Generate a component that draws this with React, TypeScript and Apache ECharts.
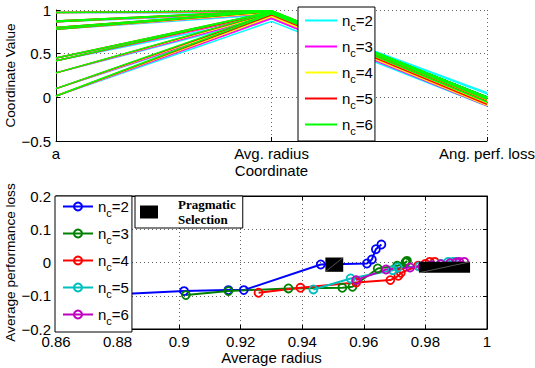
import React, { useEffect, useRef } from "react";
import * as echarts from "echarts";

// ---------- data ----------
const NC = [2, 3, 4, 5, 6];
const COORD_LABELS = ["a", "Avg. radius", "Ang. perf. loss"];
const A_VALUES = [0.015, 0.1, 0.28, 0.42, 0.45, 0.78, 0.8, 0.865, 0.875, 0.97];

const RADIUS_NC2 = [0.87, 0.9016, 0.916, 0.921, 0.946, 0.95, 0.961, 0.9626, 0.9639, 0.9657];
const LOSS_NC2 = [-0.1, -0.086, -0.083, -0.083, -0.006, -0.005, -0.003, 0.009, 0.04, 0.054];
const RADIUS_NC3 = [0.9022, 0.916, 0.9355, 0.953, 0.9563, 0.9645, 0.9708, 0.9735, 0.9738, 0.974];
const LOSS_NC3 = [-0.098, -0.086, -0.078, -0.076, -0.073, -0.018, -0.01, 0.0, 0.002, 0.005];
const RADIUS_NC4 = [0.9258, 0.9394, 0.9575, 0.9686, 0.9712, 0.972, 0.9776, 0.98, 0.9814, 0.983];
const LOSS_NC4 = [-0.091, -0.076, -0.06, -0.053, -0.04, -0.031, -0.01, -0.004, 0.002, 0.002];
const RADIUS_NC5 = [0.9436, 0.9557, 0.9694, 0.971, 0.978, 0.982, 0.985, 0.9874, 0.989, 0.99];
const LOSS_NC5 = [-0.081, -0.048, -0.023, -0.015, -0.012, -0.008, -0.004, 0.002, 0.002, 0.002];
const RADIUS_NC6 = [0.9575, 0.9672, 0.975, 0.979, 0.982, 0.985, 0.988, 0.99, 0.991, 0.9926];
const LOSS_NC6 = [-0.053, -0.021, -0.015, -0.012, -0.008, -0.005, -0.002, 0.0, 0.002, 0.002];

const RADIUS = [RADIUS_NC2, RADIUS_NC3, RADIUS_NC4, RADIUS_NC5, RADIUS_NC6];
const LOSS = [LOSS_NC2, LOSS_NC3, LOSS_NC4, LOSS_NC5, LOSS_NC6];

// [xMin, xMax, yMin, yMax]
const SELECTION_RECTS = [
  [0.9475, 0.9533, -0.028, 0.015],
  [0.9779, 0.9945, -0.031, 0.002],
];

const TOP_COLORS = ["#00ffff", "#ff00ff", "#ffff00", "#ff0000", "#00ff00"];
const BOTTOM_COLORS = ["#0000ff", "#008000", "#ff0000", "#00bfbf", "#bf00bf"];

const FONT = "Liberation Sans";
const minus = (s: string) => s.replace("-", "\u2212");

export default function App() {
  const ref = useRef<HTMLDivElement>(null);
  useEffect(() => {
    if (!ref.current) return;
    const chart = echarts.init(ref.current, null, { renderer: "svg" });

    const series: any[] = [];
    NC.forEach((nc, k) => {
      A_VALUES.forEach((a, i) => {
        series.push({
          type: "line",
          name: "top" + nc,
          xAxisIndex: 0,
          yAxisIndex: 0,
          data: [
            [0, a],
            [1, RADIUS[k][i]],
            [2, LOSS[k][i]],
          ],
          symbol: "none",
          color: TOP_COLORS[k],
          lineStyle: { width: 1.5, color: TOP_COLORS[k] },
          silent: true,
          z: 2,
        });
      });
    });
    NC.forEach((nc, k) => {
      series.push({
        type: "line",
        name: "bot" + nc,
        xAxisIndex: 1,
        yAxisIndex: 1,
        data: RADIUS[k].map((r, i) => [r, LOSS[k][i]]),
        symbol: "circle",
        symbolSize: 8,
        showSymbol: true,
        color: BOTTOM_COLORS[k],
        lineStyle: { width: 2, color: BOTTOM_COLORS[k] },
        itemStyle: { color: "rgba(255,255,255,0)", borderColor: BOTTOM_COLORS[k], borderWidth: 1.8 },
        silent: true,
        z: 2,
      });
    });
    series.push({
      type: "custom",
      name: "Pragmatic Selection",
      xAxisIndex: 1,
      yAxisIndex: 1,
      data: SELECTION_RECTS,
      encode: { x: [0, 1], y: [2, 3] },
      itemStyle: { color: "#000" },
      z: 5,
      silent: true,
      renderItem: (params: any, api: any) => {
        const p0 = api.coord([api.value(0), api.value(3)]);
        const p1 = api.coord([api.value(1), api.value(2)]);
        return {
          type: "group",
          children: [
            {
              type: "rect",
              shape: { x: p0[0], y: p0[1], width: p1[0] - p0[0], height: p1[1] - p0[1] },
              style: { fill: "#000" },
            },
            {
              type: "line",
              shape: { x1: p0[0], y1: p1[1], x2: p1[0], y2: p0[1] },
              style: { stroke: "#777", lineWidth: 0.7 },
            },
          ],
        };
      },
    });

    const labelStyle = { fontFamily: FONT, fontSize: 15, color: "#000" };
    const yNameStyle = { fontFamily: FONT, fontSize: 13.6, color: "#000" };
    const dotted = { show: true, lineStyle: { type: [1, 3], color: "#666", width: 1 } };
    const tick = { show: true, inside: true, length: 4, lineStyle: { color: "#000" } };
    const axLine = { show: true, onZero: false, lineStyle: { color: "#000", width: 1 } };
    const numFmt = (v: number) => minus(String(parseFloat(v.toFixed(2))));

    const legendRich = {
      n: { fontFamily: FONT, fontSize: 15, color: "#000", lineHeight: 18 },
      s: { fontFamily: FONT, fontSize: 11, color: "#000", padding: [12, 0, 0, 0] },
    };
    const ncFormatter = (name: string) => `{n|n}{s|c}{n|=${name.slice(3)}}`;

    chart.setOption({
      animation: false,
      backgroundColor: "#fff",
      grid: [
        { left: 56, right: 48, top: 10, height: 131, outerBoundsMode: "none", containLabel: false },
        {
          left: 56,
          right: 48,
          top: 196,
          height: 133,
          outerBoundsMode: "none",
          containLabel: false,
          show: true,
          borderColor: "#000",
          borderWidth: 1,
          backgroundColor: "transparent",
        },
      ],
      xAxis: [
        {
          type: "value",
          gridIndex: 0,
          min: 0,
          max: 2,
          interval: 1,
          axisLine: axLine,
          axisTick: tick,
          splitLine: dotted,
          axisLabel: { ...labelStyle, margin: 5, showMinLabel: true, showMaxLabel: true, formatter: (v: number) => COORD_LABELS[v] },
          name: "Coordinate",
          nameLocation: "middle",
          nameGap: 22,
          nameMoveOverlap: false,
          nameTextStyle: labelStyle,
        },
        {
          type: "value",
          gridIndex: 1,
          min: 0.86,
          max: 1,
          interval: 0.02,
          axisLine: axLine,
          axisTick: tick,
          splitLine: dotted,
          axisLabel: { ...labelStyle, margin: 5, formatter: numFmt },
          name: "Average radius",
          nameLocation: "middle",
          nameGap: 21,
          nameMoveOverlap: false,
          nameTextStyle: labelStyle,
        },
        {
          type: "value",
          gridIndex: 1,
          position: "top",
          min: 0.86,
          max: 1,
          interval: 0.02,
          axisLine: axLine,
          axisTick: tick,
          splitLine: { show: false },
          axisLabel: { show: false },
        },
      ],
      yAxis: [
        {
          type: "value",
          gridIndex: 0,
          min: -0.5,
          max: 1,
          interval: 0.5,
          axisLine: axLine,
          axisTick: tick,
          splitLine: dotted,
          axisLabel: { ...labelStyle, margin: 5, formatter: numFmt },
          name: "Coordinate Value",
          nameLocation: "middle",
          nameGap: 39,
          nameMoveOverlap: false,
          nameTextStyle: yNameStyle,
        },
        {
          type: "value",
          gridIndex: 1,
          min: -0.2,
          max: 0.2,
          interval: 0.1,
          axisLine: axLine,
          axisTick: tick,
          splitLine: dotted,
          axisLabel: { ...labelStyle, margin: 5, formatter: numFmt },
          name: "Average performance loss",
          nameLocation: "middle",
          nameGap: 39,
          nameMoveOverlap: false,
          nameTextStyle: yNameStyle,
        },
        {
          type: "value",
          gridIndex: 1,
          position: "right",
          min: -0.2,
          max: 0.2,
          interval: 0.1,
          axisLine: axLine,
          axisTick: tick,
          splitLine: { show: false },
          axisLabel: { show: false },
        },
      ],
      legend: [
        {
          data: NC.map((n) => ({ name: "top" + n, icon: "rect" })),
          orient: "vertical",
          left: 298,
          top: 7,
          itemWidth: 32,
          itemHeight: 2,
          itemGap: 7,
          padding: [6, 2, 5, 7],
          backgroundColor: "#fff",
          borderColor: "#000",
          borderWidth: 1,
          selectedMode: false,
          formatter: ncFormatter,
          textStyle: { rich: legendRich },
          z: 10,
        },
        {
          data: NC.map((n) => "bot" + n),
          orient: "vertical",
          left: 55,
          top: 196,
          itemWidth: 30,
          itemHeight: 10,
          itemGap: 8,
          padding: [3, 3, 6, 7],
          backgroundColor: "#fff",
          borderColor: "#000",
          borderWidth: 1,
          selectedMode: false,
          formatter: ncFormatter,
          textStyle: { rich: legendRich },
          z: 10,
        },
        {
          data: [{ name: "Pragmatic Selection", icon: "rect" }],
          left: 135,
          top: 196,
          itemWidth: 18,
          itemHeight: 13,
          padding: [2, 7, 2, 5],
          backgroundColor: "#fff",
          borderColor: "#000",
          borderWidth: 1,
          selectedMode: false,
          formatter: () => "{t|Pragmatic}\n{t|Selection}",
          textStyle: {
            rich: {
              t: { fontFamily: "Liberation Serif", fontWeight: "bold", fontSize: 13, lineHeight: 15, color: "#000", padding: [0, 0, 0, 15] },
            },
          },
          z: 10,
        },
      ],
      series,
    });
    return () => chart.dispose();
  }, []);
  return <div ref={ref} style={{ position: "fixed", left: 0, top: 0, width: 535, height: 368 }} />;
}
